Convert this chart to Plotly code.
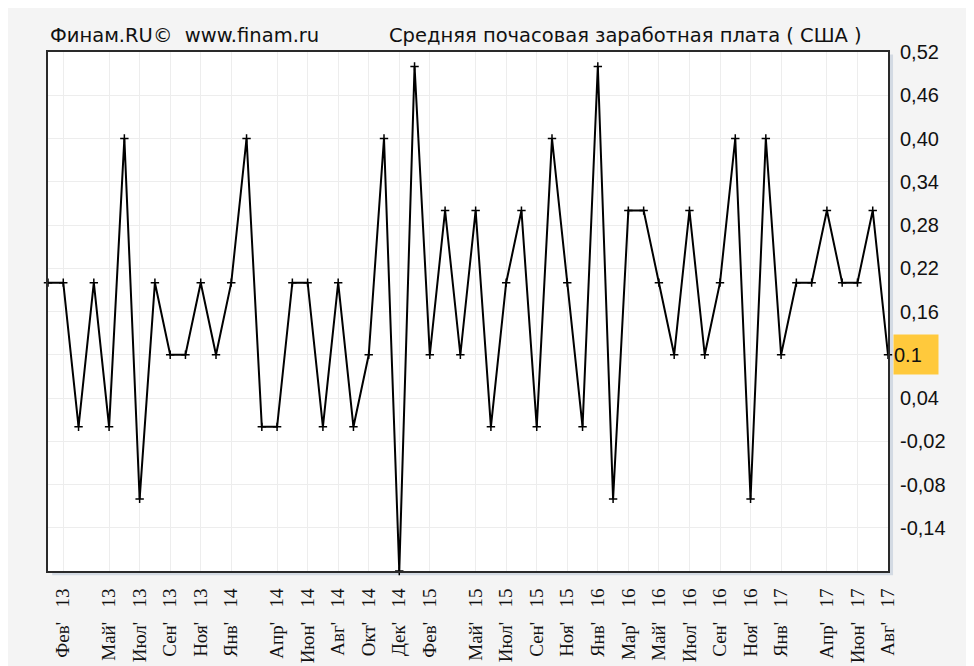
import plotly.graph_objects as go

# months Jan 2013 .. Aug 2017
month_names = ["Янв", "Фев", "Мар", "Апр", "Май", "Июн",
               "Июл", "Авг", "Сен", "Окт", "Ноя", "Дек"]
years = ["13", "14", "15", "16", "17"]
months = [f"{m}' {y}" for y in years for m in month_names][:56]

values = [
    0.2, 0.2, 0.0, 0.2, 0.0, 0.4, -0.1, 0.2, 0.1, 0.1, 0.2, 0.1,   # 2013
    0.2, 0.4, 0.0, 0.0, 0.2, 0.2, 0.0, 0.2, 0.0, 0.1, 0.4, -0.2,   # 2014
    0.5, 0.1, 0.3, 0.1, 0.3, 0.0, 0.2, 0.3, 0.0, 0.4, 0.2, 0.0,    # 2015
    0.5, -0.1, 0.3, 0.3, 0.2, 0.1, 0.3, 0.1, 0.2, 0.4, -0.1, 0.4,  # 2016
    0.1, 0.2, 0.2, 0.3, 0.2, 0.2, 0.3, 0.1,                        # 2017
]

x_ticks = ["Фев' 13", "Май' 13", "Июл' 13", "Сен' 13", "Ноя' 13",
           "Янв' 14", "Апр' 14", "Июн' 14", "Авг' 14", "Окт' 14", "Дек' 14",
           "Фев' 15", "Май' 15", "Июл' 15", "Сен' 15", "Ноя' 15",
           "Янв' 16", "Мар' 16", "Май' 16", "Июл' 16", "Сен' 16", "Ноя' 16",
           "Янв' 17", "Апр' 17", "Июн' 17", "Авг' 17"]

y_ticks = [-0.2, -0.14, -0.08, -0.02, 0.04, 0.10, 0.16, 0.22, 0.28, 0.34, 0.40, 0.46, 0.52]
y_labels = ["", "-0,14", "-0,08", "-0,02", "0,04", "", "0,16", "0,22",
            "0,28", "0,34", "0,40", "0,46", "0,52"]

last_value = "0.1"

fig = go.Figure()

fig.add_trace(go.Scatter(
    x=months,
    y=values,
    mode="lines+markers",
    line=dict(color="#000000", width=2),
    marker=dict(symbol="cross-thin", size=6, line=dict(color="#000000", width=1.5)),
    cliponaxis=False,
    showlegend=False,
))

# frame shadow, then white plot area on top of it
fig.add_shape(type="rect", xref="paper", yref="paper",
              x0=0.005, x1=1.006, y0=-0.008, y1=0.995,
              line=dict(width=0), fillcolor="#D3DAE3", layer="below")
fig.add_shape(type="rect", xref="paper", yref="paper",
              x0=0, x1=1, y0=0, y1=1,
              line=dict(width=0), fillcolor="#FFFFFF", layer="below")

fig.add_annotation(
    xref="paper", yref="y", x=1, y=0.1,
    xanchor="left", yanchor="middle", xshift=5,
    text=last_value, showarrow=False,
    width=44, height=39, align="left", borderpad=0,
    bgcolor="#FFC93C",
    font=dict(family="Liberation Sans", size=20, color="#111111"),
)

fig.add_annotation(
    xref="paper", yref="paper", x=0, y=1, yshift=3,
    xanchor="left", yanchor="bottom",
    text="Финам.RU©  www.finam.ru", showarrow=False,
    font=dict(family="DejaVu Sans", size=19.5, color="#111111"),
)
fig.add_annotation(
    xref="paper", yref="paper", x=0.404, y=1, yshift=3,
    xanchor="left", yanchor="bottom",
    text="Средняя почасовая заработная плата ( США )", showarrow=False,
    font=dict(family="DejaVu Sans", size=19.5, color="#111111"),
)

fig.update_layout(
    width=966,
    height=658,
    margin=dict(l=40, r=86, t=44, b=95),
    paper_bgcolor="#F4F4F4",
    plot_bgcolor="rgba(0,0,0,0)",
    font=dict(family="Liberation Sans", color="#111111"),
)

fig.update_xaxes(
    type="category",
    range=[0, len(months) - 1],
    tickmode="array",
    tickvals=x_ticks,
    ticktext=[t.replace("' ", "'   ") for t in x_ticks],
    tickangle=-90,
    tickfont=dict(family="Liberation Serif", size=19, color="#111111"),
    ticks="",
    ticklabelstandoff=8,
    automargin=False,
    showgrid=True,
    gridcolor="#EDEDED",
    gridwidth=1,
    showline=True,
    linecolor="#2A2A2A",
    linewidth=2,
    mirror=True,
    zeroline=False,
)

fig.update_yaxes(
    side="right",
    range=[-0.2, 0.52],
    tickmode="array",
    tickvals=y_ticks,
    ticktext=y_labels,
    tickfont=dict(family="Liberation Sans", size=20, color="#111111"),
    ticks="",
    ticklabelstandoff=6,
    automargin=False,
    showgrid=True,
    gridcolor="#EDEDED",
    gridwidth=1,
    showline=True,
    linecolor="#2A2A2A",
    linewidth=2,
    mirror=True,
    zeroline=False,
)

fig.write_html("out.html")
